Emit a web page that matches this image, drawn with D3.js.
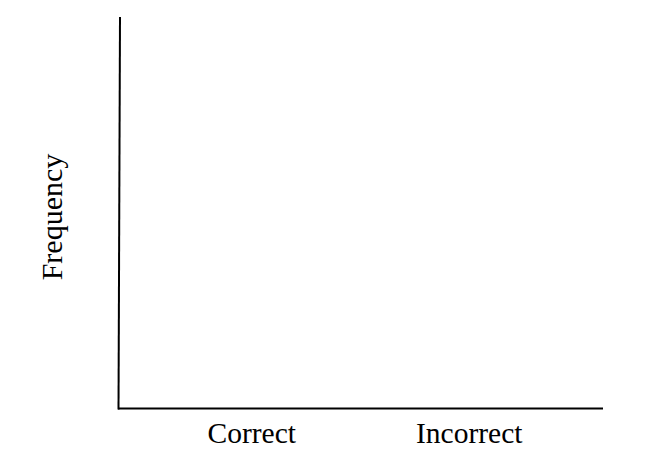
<!DOCTYPE html>
<html><head><meta charset="utf-8">
<script src="https://cdn.jsdelivr.net/npm/d3@7"></script>
<style>body{margin:0;background:#fff}svg{display:block}text{font-family:"Liberation Serif","Times New Roman",serif;fill:#000}</style>
</head><body>
<svg id="c" width="658" height="473"></svg>
<script>
const categories = ["Correct", "Incorrect"];
const yLabel = "Frequency";
const yDomain = [0, 1];

(function () {
const svg = d3.select("#c");
const mLeft = 118, mRight = 603, mTop = 17, mBottom = 408;
const x = d3.scaleBand().domain(categories).range([mLeft, mRight]).paddingInner(0).paddingOuter(0.115);
const y = d3.scaleLinear().domain(yDomain).range([mBottom, mTop]);

// axes lines
svg.append("line").attr("x1", x.range()[0]).attr("x2", x.range()[1])
  .attr("y1", y(0) + 0.5).attr("y2", y(0) + 0.5).attr("stroke", "#000").attr("stroke-width", 2);
svg.append("line").attr("x1", mLeft + 0.5).attr("x2", mLeft + 2)
  .attr("y1", y(0) + 1.5).attr("y2", y(1)).attr("stroke", "#000").attr("stroke-width", 2);

// category labels
svg.selectAll("text.cat").data(categories).join("text").attr("class", "cat")
  .attr("x", d => x(d) + x.bandwidth() / 2).attr("y", 443)
  .attr("text-anchor", "middle").attr("font-size", 29.5).text(d => d);

svg.append("text").attr("transform", "translate(62,217) rotate(-90)")
  .attr("text-anchor", "middle").attr("font-size", 30).text(yLabel);
})();
</script>
</body></html>
